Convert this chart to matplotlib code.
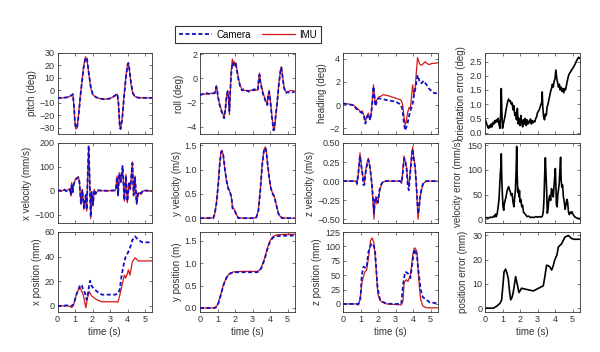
import matplotlib
matplotlib.use('Agg')
import matplotlib.pyplot as plt
from matplotlib.lines import Line2D

# ---------------- data ----------------
t_pitch = [0, 0.3, 0.6, 0.8, 0.88, 0.95, 1.0, 1.05, 1.12, 1.2, 1.3, 1.4, 1.5, 1.6, 1.68, 1.8, 1.9, 2.0, 2.1, 2.2, 2.4, 2.6, 2.8, 3.0, 3.2, 3.35, 3.42, 3.48, 3.55, 3.6, 3.7, 3.8, 3.9, 4.0, 4.05, 4.12, 4.2, 4.3, 4.4, 4.5, 4.7, 5.0, 5.4]
pitch_imu = [-6, -6, -5.5, -4, -3, -15, -27, -31, -30, -20, -5, 8, 20, 27, 25, 12, 2, -3, -4.5, -5.5, -6.5, -7, -7, -6.5, -5, -3.5, -3, -10, -28, -31, -22, -5, 10, 21, 22, 15, 5, -2, -4.5, -5.5, -6, -6, -6]
pitch_cam = [-6, -6, -5.5, -4, -3, -14, -26, -30, -30, -21, -6, 7, 19, 26, 26, 13, 3, -2.5, -4.5, -5.5, -6.5, -7, -7, -6.5, -5, -3.5, -3, -9, -27, -31, -23, -6, 9, 20, 22, 16, 6, -2, -4.5, -5.5, -6, -6, -6]

t_roll = [0, 0.3, 0.6, 0.85, 0.9, 0.93, 0.97, 1.02, 1.1, 1.2, 1.3, 1.38, 1.45, 1.52, 1.58, 1.63, 1.68, 1.72, 1.78, 1.85, 1.9, 1.95, 2.0, 2.05, 2.1, 2.2, 2.3, 2.4, 2.5, 2.8, 3.1, 3.3, 3.36, 3.4, 3.45, 3.52, 3.6, 3.7, 3.8, 3.85, 3.9, 3.95, 4.0, 4.1, 4.2, 4.25, 4.3, 4.4, 4.5, 4.6, 4.65, 4.7, 4.8, 4.9, 5.0, 5.2, 5.4]
roll_imu = [-1.3, -1.3, -1.25, -1.2, -0.9, -0.6, -0.8, -1.5, -2.0, -2.5, -2.9, -3.2, -2.6, -1.5, -1.0, -1.6, -3.0, -1.5, 0.5, 1.6, 1.2, 1.4, 1.0, 1.3, 0.8, 0.0, -0.6, -0.9, -1.0, -1.0, -1.0, -0.95, 0.0, 0.45, -0.2, -0.7, -1.2, -1.6, -2.0, -2.1, -1.3, -1.0, -1.5, -3.0, -4.2, -4.3, -3.5, -2.2, -0.5, 0.7, 0.95, 0.4, -0.7, -1.1, -1.1, -1.0, -1.05]
roll_cam = [-1.4, -1.2, -1.3, -1.2, -0.95, -0.7, -0.9, -1.4, -2.1, -2.6, -3.0, -3.3, -2.5, -1.4, -1.1, -1.5, -2.7, -1.3, 0.3, 1.3, 1.1, 1.2, 1.1, 1.2, 0.7, -0.1, -0.7, -1.0, -0.9, -1.1, -0.9, -1.0, -0.1, 0.3, -0.3, -0.8, -1.3, -1.7, -2.1, -2.2, -1.4, -1.1, -1.6, -3.1, -4.3, -4.1, -3.4, -2.1, -0.6, 0.6, 0.9, 0.3, -0.8, -1.2, -1.15, -1.2, -1.1]

t_head = [0, 0.3, 0.6, 0.75, 0.9, 1.0, 1.1, 1.2, 1.28, 1.35, 1.45, 1.55, 1.62, 1.68, 1.74, 1.8, 1.85, 1.95, 2.05, 2.15, 2.3, 2.6, 3.0, 3.3, 3.4, 3.47, 3.55, 3.62, 3.7, 3.78, 3.85, 3.92, 3.98, 4.05, 4.12, 4.2, 4.26, 4.32, 4.4, 4.5, 4.6, 4.7, 4.8, 4.9, 5.0, 5.1, 5.2, 5.4]
head_imu = [0.1, 0.1, 0.0, -0.2, -0.4, -0.6, -0.5, -0.9, -1.4, -1.0, -0.7, -1.2, -0.6, 0.5, 1.75, 0.8, 0.1, 0.5, 0.7, 0.75, 0.9, 0.8, 0.6, 0.45, 0.1, -0.8, -1.7, -1.4, -0.6, -0.2, -0.3, 0.8, 1.75, 0.9, 1.4, 3.0, 4.1, 3.8, 3.5, 3.45, 3.6, 3.75, 3.6, 3.5, 3.55, 3.6, 3.6, 3.65]
head_cam = [0.15, 0.05, 0.0, -0.3, -0.5, -0.6, -0.7, -1.0, -1.6, -1.1, -0.8, -1.3, -0.7, 0.3, 1.6, 0.7, -0.1, 0.4, 0.6, 0.55, 0.5, 0.4, 0.3, 0.05, -0.4, -1.4, -2.2, -1.9, -1.5, -0.9, -0.5, -0.2, 0.1, 0.8, 1.3, 2.0, 2.6, 2.3, 1.9, 1.9, 2.1, 1.9, 1.7, 1.45, 1.3, 1.1, 1.05, 1.0]

t_oerr = [0, 0.05, 0.1, 0.15, 0.2, 0.25, 0.3, 0.35, 0.4, 0.45, 0.5, 0.55, 0.6, 0.65, 0.7, 0.75, 0.8, 0.85, 0.9, 0.93, 0.97, 1.0, 1.05, 1.1, 1.15, 1.2, 1.25, 1.3, 1.35, 1.4, 1.45, 1.5, 1.55, 1.6, 1.65, 1.7, 1.75, 1.8, 1.85, 1.9, 1.95, 2.0, 2.05, 2.1, 2.15, 2.2, 2.25, 2.3, 2.35, 2.4, 2.45, 2.5, 2.55, 2.6, 2.65, 2.7, 2.75, 2.8, 2.85, 2.9, 2.95, 3.0, 3.05, 3.1, 3.15, 3.2, 3.25, 3.27, 3.3, 3.35, 3.4, 3.45, 3.5, 3.55, 3.6, 3.65, 3.7, 3.75, 3.8, 3.85, 3.9, 3.95, 4.0, 4.05, 4.1, 4.15, 4.2, 4.25, 4.3, 4.35, 4.4, 4.45, 4.5, 4.55, 4.6, 4.65, 4.7, 4.75, 4.8, 4.85, 4.9, 4.95, 5.0, 5.05, 5.1, 5.15, 5.2, 5.25, 5.3, 5.35, 5.4]
orient_err = [0.48, 0.4, 0.3, 0.2, 0.15, 0.25, 0.18, 0.3, 0.2, 0.35, 0.3, 0.42, 0.35, 0.45, 0.38, 0.5, 0.3, 0.15, 0.7, 1.55, 0.6, 0.15, 0.3, 0.45, 0.6, 0.8, 0.95, 1.1, 1.18, 1.1, 1.12, 1.0, 1.05, 0.8, 0.95, 0.6, 0.7, 0.45, 0.85, 0.3, 0.5, 0.25, 0.6, 0.35, 0.2, 0.45, 0.3, 0.5, 0.25, 0.45, 0.3, 0.4, 0.35, 0.48, 0.3, 0.42, 0.35, 0.4, 0.38, 0.5, 0.55, 0.7, 0.75, 0.8, 0.9, 1.0, 1.05, 1.43, 0.9, 0.55, 0.45, 0.65, 0.6, 0.9, 1.0, 1.15, 1.3, 1.45, 1.55, 1.7, 1.6, 1.8, 1.9, 2.2, 1.9, 1.75, 1.6, 1.7, 1.5, 1.6, 1.45, 1.55, 1.4, 1.55, 1.5, 1.65, 1.8, 1.95, 2.05, 2.1, 2.15, 2.2, 2.25, 2.3, 2.35, 2.42, 2.48, 2.55, 2.6, 2.65, 2.62]

t_xv = [0, 0.3, 0.4, 0.5, 0.71, 0.77, 0.81, 0.87, 0.92, 1.04, 1.19, 1.25, 1.34, 1.42, 1.51, 1.61, 1.67, 1.72, 1.78, 1.84, 1.9, 1.95, 2.03, 2.1, 2.18, 2.3, 2.8, 3.29, 3.34, 3.4, 3.46, 3.53, 3.61, 3.72, 3.82, 3.91, 3.99, 4.09, 4.16, 4.28, 4.35, 4.43, 4.52, 4.62, 4.77, 4.9, 5.2, 5.4]
xv_imu = [0, 0, 6, 0, 9, -22, 34, -8, 27, 51, 59, 41, -57, 6, -78, -22, -85, 48, 173, 48, -117, -8, -64, 6, -15, 0, 0, 0, 13, 62, -22, 76, 34, 97, -43, 69, -50, 34, 6, 121, -22, 62, -57, -8, -15, 0, 0, 0]
xv_cam = [2, 0, 4, -2, 6, -18, 30, -5, 25, 48, 56, 38, -52, 4, -72, -18, -80, 45, 190, 42, -110, -5, -58, 4, -12, 2, 0, 2, 10, 58, -18, 72, 38, 104, -40, 64, -45, 30, 8, 115, -18, 58, -52, -5, -10, 2, 0, 0]

t_yv = [0, 0.5, 0.76, 0.85, 0.95, 1.05, 1.12, 1.2, 1.26, 1.33, 1.42, 1.52, 1.62, 1.7, 1.77, 1.82, 1.86, 1.93, 2.0, 2.1, 2.19, 2.5, 3.0, 3.2, 3.33, 3.45, 3.55, 3.65, 3.73, 3.78, 3.85, 3.95, 4.05, 4.15, 4.25, 4.3, 4.38, 4.47, 4.57, 4.7, 5.0, 5.4]
yv_imu = [0, 0, 0.01, 0.1, 0.35, 0.75, 1.1, 1.38, 1.4, 1.3, 1.0, 0.75, 0.62, 0.55, 0.48, 0.35, 0.22, 0.2, 0.15, 0.06, 0.01, 0, 0, 0.01, 0.15, 0.6, 1.1, 1.4, 1.47, 1.42, 1.15, 0.85, 0.6, 0.52, 0.45, 0.38, 0.25, 0.12, 0.04, 0.01, 0, 0]
yv_cam = [0, 0, 0.0, 0.1, 0.33, 0.72, 1.08, 1.35, 1.38, 1.3, 1.02, 0.77, 0.6, 0.56, 0.46, 0.36, 0.2, 0.19, 0.14, 0.05, 0.0, 0, 0, 0.0, 0.13, 0.58, 1.08, 1.38, 1.45, 1.4, 1.17, 0.84, 0.62, 0.5, 0.44, 0.36, 0.24, 0.1, 0.03, 0.0, 0, 0]

t_zv = [0, 0.5, 0.75, 0.8, 0.88, 0.97, 1.03, 1.1, 1.16, 1.22, 1.3, 1.38, 1.45, 1.52, 1.58, 1.65, 1.72, 1.77, 1.82, 1.88, 1.94, 2.0, 2.08, 2.19, 2.3, 2.5, 3.0, 3.26, 3.35, 3.42, 3.49, 3.56, 3.64, 3.7, 3.76, 3.85, 3.92, 3.98, 4.05, 4.12, 4.2, 4.29, 4.35, 4.42, 4.5, 4.6, 4.76, 5.0, 5.4]
zv_imu = [0, 0, 0, -0.05, 0.1, 0.37, 0.25, 0.1, 0.05, -0.02, 0.15, 0.25, 0.3, 0.2, 0.12, -0.05, -0.3, -0.5, -0.3, -0.2, -0.3, -0.27, -0.15, -0.05, -0.01, 0, 0, 0, -0.03, 0.15, 0.33, 0.25, 0.17, -0.02, -0.07, 0.15, 0.35, 0.45, 0.3, 0.2, -0.1, -0.5, -0.35, -0.2, -0.1, -0.03, 0, 0, 0]
zv_cam = [0, 0, 0, -0.03, 0.12, 0.33, 0.22, 0.12, -0.05, -0.05, 0.12, 0.22, 0.28, 0.22, 0.1, -0.03, -0.25, -0.42, -0.22, -0.25, -0.22, -0.28, -0.12, -0.04, 0, 0, 0, 0, -0.02, 0.12, 0.3, 0.27, 0.15, -0.06, -0.12, 0.12, 0.3, 0.42, 0.27, 0.18, -0.08, -0.43, -0.33, -0.18, -0.08, -0.02, 0, 0, 0]

t_verr = [0, 0.1, 0.2, 0.3, 0.4, 0.5, 0.55, 0.6, 0.65, 0.7, 0.75, 0.8, 0.85, 0.88, 0.91, 0.93, 0.96, 1.0, 1.03, 1.07, 1.1, 1.15, 1.2, 1.25, 1.3, 1.35, 1.4, 1.45, 1.5, 1.55, 1.6, 1.65, 1.7, 1.74, 1.78, 1.81, 1.84, 1.87, 1.9, 1.94, 1.97, 2.0, 2.05, 2.1, 2.15, 2.2, 2.3, 2.4, 2.5, 2.6, 2.7, 2.8, 2.9, 3.0, 3.1, 3.2, 3.28, 3.33, 3.37, 3.41, 3.45, 3.48, 3.52, 3.56, 3.6, 3.65, 3.7, 3.75, 3.8, 3.85, 3.9, 3.95, 3.99, 4.02, 4.05, 4.08, 4.12, 4.16, 4.2, 4.24, 4.28, 4.32, 4.35, 4.39, 4.43, 4.48, 4.53, 4.58, 4.63, 4.68, 4.72, 4.77, 4.82, 4.87, 4.92, 4.97, 5.05, 5.15, 5.25, 5.4]
vel_err = [2, 3, 2, 4, 3, 6, 4, 10, 5, 12, 25, 40, 75, 95, 110, 133, 80, 45, 25, 18, 30, 38, 45, 55, 62, 66, 60, 55, 48, 52, 35, 25, 45, 60, 100, 148, 90, 55, 62, 45, 58, 35, 40, 25, 28, 14, 10, 5, 6, 3, 4, 3, 5, 4, 5, 4, 6, 15, 40, 90, 125, 95, 60, 12, 20, 40, 48, 38, 62, 55, 45, 70, 90, 103, 70, 30, 25, 50, 60, 72, 100, 126, 80, 65, 70, 45, 35, 20, 30, 40, 35, 15, 9, 14, 12, 15, 8, 4, 2, 1]

t_xp = [0, 0.3, 0.6, 0.81, 0.9, 1.0, 1.1, 1.2, 1.29, 1.38, 1.48, 1.57, 1.62, 1.67, 1.71, 1.76, 1.81, 1.86, 1.96, 2.05, 2.15, 2.24, 2.53, 3.0, 3.3, 3.45, 3.55, 3.67, 3.82, 3.9, 4.01, 4.05, 4.14, 4.28, 4.43, 4.59, 4.62, 4.81, 4.86, 5.4]
xp_imu = [0, 0, 0, -1.3, 0, 5, 10.5, 13, 15, 12, 8.6, 2, -1.6, 3, 6.2, 9, 11.8, 10, 8, 7, 5.9, 5, 3.3, 3.3, 3.3, 3, 8, 15.9, 25, 22.6, 27, 29.3, 25, 36, 39, 37, 36.5, 36.5, 36.5, 36.5]
xp_cam = [0, 0, 0.5, 0, 1, 5, 10, 13, 17.2, 16.7, 13, 10.5, 7, 5, 8, 11.8, 17, 20.4, 16, 14.5, 13, 11.8, 9.1, 9.1, 9.1, 10, 13.1, 25.3, 36, 40, 42.8, 44, 46.8, 53.5, 56.5, 54, 53.5, 52, 51.6, 51.6]

t_yp = [0, 0.67, 0.85, 0.95, 1.05, 1.14, 1.24, 1.33, 1.43, 1.52, 1.62, 1.71, 1.85, 2.0, 2.5, 3.24, 3.35, 3.43, 3.52, 3.62, 3.72, 3.81, 3.9, 4.0, 4.1, 4.19, 4.33, 4.48, 5.0, 5.4]
yp_imu = [0, 0, 0.01, 0.04, 0.12, 0.24, 0.38, 0.51, 0.61, 0.69, 0.74, 0.77, 0.8, 0.81, 0.82, 0.82, 0.83, 0.86, 0.93, 1.03, 1.15, 1.28, 1.4, 1.5, 1.56, 1.6, 1.63, 1.64, 1.65, 1.65]
yp_cam = [0, 0, 0.0, 0.03, 0.1, 0.22, 0.36, 0.5, 0.6, 0.68, 0.73, 0.77, 0.79, 0.8, 0.8, 0.8, 0.81, 0.84, 0.91, 1.01, 1.13, 1.26, 1.38, 1.48, 1.54, 1.58, 1.6, 1.61, 1.62, 1.62]

t_zp = [0, 0.5, 0.78, 0.88, 0.98, 1.03, 1.07, 1.17, 1.26, 1.32, 1.35, 1.45, 1.58, 1.66, 1.7, 1.77, 1.83, 1.88, 1.96, 2.0, 2.11, 2.19, 2.48, 3.0, 3.33, 3.43, 3.49, 3.56, 3.62, 3.71, 3.85, 4.0, 4.06, 4.11, 4.21, 4.23, 4.3, 4.38, 4.44, 4.53, 4.59, 4.72, 4.78, 4.95, 5.4]
zp_imu = [0, 0, 0, -2, 10, 21.7, 35, 48, 56, 58, 59, 79, 110.6, 114.6, 112, 106, 85, 67.6, 30, 16, 7, 4, 0, -1, -1.7, 5.5, 36, 40, 42, 39, 50, 88, 96, 97.4, 92, 90, 56, 25, 7.4, -1, -4, -6, -6.7, -6.7, -6.7]
zp_cam = [0, 0, 0, 0, 5, 25, 50, 64.7, 63, 61.8, 65, 90, 102, 105, 105, 100, 93, 70, 33.5, 25, 8, 5, 0.5, 0, 0, 33, 45, 56, 55, 53, 45, 79, 90, 95, 85, 82, 60, 39, 25, 14, 11, 8.6, 7, 2.9, 1]

t_perr = [0, 0.48, 0.67, 0.86, 0.95, 1.02, 1.09, 1.18, 1.25, 1.33, 1.4, 1.47, 1.55, 1.62, 1.75, 1.85, 1.94, 2.09, 2.38, 2.76, 3.14, 3.33, 3.42, 3.52, 3.61, 3.71, 3.81, 3.9, 3.98, 4.11, 4.19, 4.38, 4.57, 4.76, 4.95, 5.1, 5.4]
pos_err = [0, 0, 0.8, 2, 3.4, 9, 15, 16.1, 14.5, 12.3, 7, 3.4, 4.5, 6.8, 13, 9.6, 6.4, 8.2, 7.7, 7.1, 8.5, 9.2, 13, 17.7, 17.5, 17, 15.7, 17.5, 19.8, 21.9, 25.2, 26.6, 29.3, 30, 28.7, 28.4, 28.4]

xticks_vals = [0, 1, 2, 3, 4, 5]

# ---------------- style ----------------
plt.rcParams['font.family'] = ['Liberation Sans', 'DejaVu Sans']
plt.rcParams['font.size'] = 6.5

W, H = 600, 352
fig = plt.figure(figsize=(W / 100, H / 100), dpi=100)

cols_px = [57.5, 200, 343, 485]
ax_w_px = 94.5
rows_px = [(53, 134), (143, 223), (232, 312)]

CAM = '#1010c8'
IMU = '#d01818'
TXT = '#333333'


def make_ax(r, c):
    top, bot = rows_px[r]
    ax = fig.add_axes([cols_px[c] / W, 1 - bot / H, ax_w_px / W, (bot - top) / H])
    ax.tick_params(direction='in', top=True, right=True, length=2.5, width=0.5,
                   labelsize=6.5, colors='#444444', labelcolor=TXT, pad=2)
    for s in ax.spines.values():
        s.set_linewidth(0.6)
        s.set_color('#333333')
    ax.set_xlim(0, 5.4)
    ax.set_xticks(xticks_vals)
    if r < 2:
        ax.set_xticklabels([])
    else:
        ax.set_xlabel('time (s)', fontsize=7, color=TXT, labelpad=2)
    return ax


def pair(ax, t, cam, imu):
    ax.plot(t, imu, color=IMU, lw=0.9, zorder=2)
    ax.plot(t, cam, color=CAM, lw=1.3, ls=(0, (2.2, 1.4)), zorder=3)


def single(ax, t, y):
    ax.plot(t, y, color='black', lw=1.2)


def ylab(ax, s, pad=2):
    ax.set_ylabel(s, fontsize=7, color=TXT, labelpad=pad)


# row 1
ax = make_ax(0, 0); pair(ax, t_pitch, pitch_cam, pitch_imu)
ax.set_ylim(-35, 30); ax.set_yticks([-30, -20, -10, 0, 10, 20, 30]); ylab(ax, 'pitch (deg)')
ax = make_ax(0, 1); pair(ax, t_roll, roll_cam, roll_imu)
ax.set_ylim(-4.6, 2.1); ax.set_yticks([-4, -2, 0, 2]); ylab(ax, 'roll (deg)')
ax = make_ax(0, 2); pair(ax, t_head, head_cam, head_imu)
ax.set_ylim(-2.5, 4.5); ax.set_yticks([-2, 0, 2, 4]); ylab(ax, 'heading (deg)')
ax = make_ax(0, 3); single(ax, t_oerr, orient_err)
ax.set_ylim(-0.05, 2.8); ax.set_yticks([0, 0.5, 1, 1.5, 2, 2.5]); ylab(ax, 'orientation error (deg)', 3)

# row 2
ax = make_ax(1, 0); pair(ax, t_xv, xv_cam, xv_imu)
ax.set_ylim(-135, 200); ax.set_yticks([-100, 0, 100, 200]); ylab(ax, 'x velocity (mm/s)')
ax = make_ax(1, 1); pair(ax, t_yv, yv_cam, yv_imu)
ax.set_ylim(-0.1, 1.55); ax.set_yticks([0, 0.5, 1, 1.5]); ylab(ax, 'y velocity (m/s)')
ax = make_ax(1, 2); pair(ax, t_zv, zv_cam, zv_imu)
ax.set_ylim(-0.55, 0.5); ax.set_yticks([-0.5, -0.25, 0, 0.25, 0.5]); ylab(ax, 'z velocity (m/s)')
ax = make_ax(1, 3); single(ax, t_verr, vel_err)
ax.set_ylim(-8, 155); ax.set_yticks([0, 50, 100, 150]); ylab(ax, 'velocity error (mm/s)', 3)

# row 3
ax = make_ax(2, 0); pair(ax, t_xp, xp_cam, xp_imu)
ax.set_ylim(-5, 60); ax.set_yticks([0, 20, 40, 60]); ylab(ax, 'x position (mm)')
ax = make_ax(2, 1); pair(ax, t_yp, yp_cam, yp_imu)
ax.set_ylim(-0.09, 1.7); ax.set_yticks([0, 0.5, 1, 1.5]); ylab(ax, 'y position (m)')
ax = make_ax(2, 2); pair(ax, t_zp, zp_cam, zp_imu)
ax.set_ylim(-14, 125); ax.set_yticks([0, 25, 50, 75, 100, 125]); ylab(ax, 'z position (mm)')
ax = make_ax(2, 3); single(ax, t_perr, pos_err)
ax.set_ylim(-1.6, 31.4); ax.set_yticks([0, 10, 20, 30]); ylab(ax, 'position error (mm)', 3)

# legend
handles = [Line2D([], [], color=CAM, lw=1.3, ls=(0, (2.2, 1.4))),
           Line2D([], [], color=IMU, lw=0.9)]
leg = fig.legend(handles, ['Camera', 'IMU'], loc='center', bbox_to_anchor=(248 / W, 1 - 34.5 / H),
                 ncol=2, frameon=True, fancybox=False, fontsize=7, handlelength=3.4,
                 columnspacing=1.2, handletextpad=0.4, borderpad=0.4)
leg.get_frame().set_edgecolor('black')
leg.get_frame().set_linewidth(0.8)

fig.savefig('out.png', dpi=100)
